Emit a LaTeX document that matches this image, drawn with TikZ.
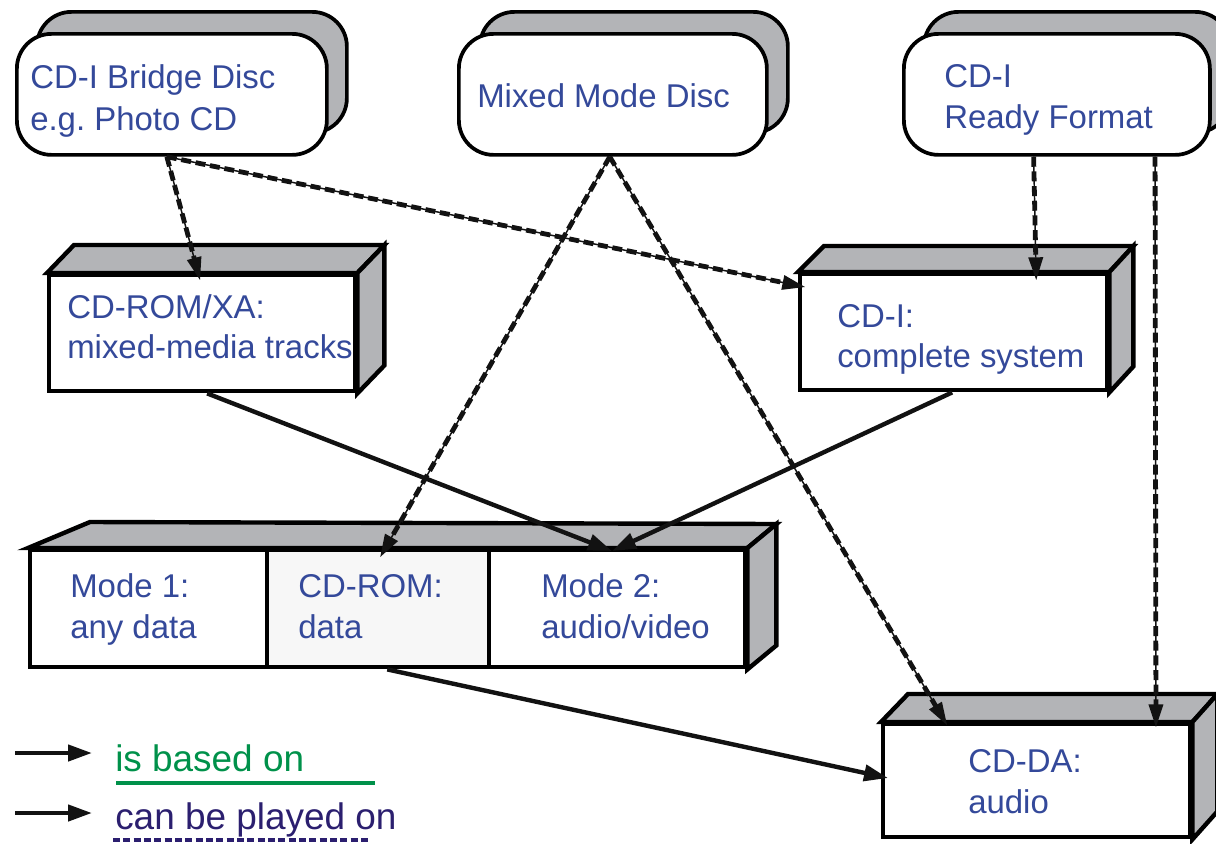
\documentclass[tikz,border=0pt]{standalone}
\usepackage{fontspec}
\setmainfont{Liberation Sans}
\usetikzlibrary{arrows.meta,calc}
\definecolor{shade}{HTML}{B3B4B7}
\definecolor{txtblue}{HTML}{34499A}
\definecolor{lgreen}{HTML}{00914A}
\definecolor{lpurple}{HTML}{2B1F6F}
\definecolor{cellgray}{HTML}{F7F7F7}
\frenchspacing
\begin{document}
\begin{tikzpicture}[x=0.75pt,y=-0.75pt,
  disc/.style={draw=black, line width=2.8pt, fill=white, rounded corners=26pt, inner sep=0pt, anchor=north west, minimum height=90.75pt},
  discback/.style={disc, fill=shade},
  cube/.style={draw=black, line width=3.3pt, fill=white, inner sep=0pt, anchor=north west},
  face/.style={draw=black, line width=3.3pt, fill=shade},
  lbl/.style={anchor=base west, inner sep=0pt, text=txtblue, font=\fontsize{24.7}{29}\selectfont},
  legtext/.style={anchor=base west, inner sep=0pt, font=\fontsize{27.7}{32}\selectfont},
  base/.style={draw=black!93, line width=3.3pt, -{Triangle[length=18pt,width=12pt]}},
  play/.style={draw=black!93, line width=1.1pt, -{Triangle[length=17pt,width=11pt]},
     postaction={draw=black!93, -, line width=3.6pt, dash pattern=on 7.5pt off 3.5pt, shorten >=14pt}}
]
\useasboundingbox (0,0) rectangle (1216,843);

% ---- discs ----
\node[discback, minimum width=232.5pt] (bridgeS) at (35,10) {};
\node[disc, minimum width=232.5pt] (bridge) at (15,32) {};
\node[discback, minimum width=231pt] (mixedS) at (478,10) {};
\node[disc, minimum width=231pt] (mixed) at (457,32) {};
\node[discback, minimum width=229.5pt] (readyS) at (922,10) {};
\node[disc, minimum width=229.5pt] (ready) at (902,32) {};

\node[lbl] (bridgeT1) at (30,88) {CD-I Bridge Disc};
\node[lbl] (bridgeT2) at (30,130) {e.g. Photo CD};
\node[lbl] (mixedT) at (477,107) {Mixed Mode Disc};
\node[lbl] (readyT1) at (944,87) {CD-I};
\node[lbl] (readyT2) at (944,128) {Ready Format};

% ---- CD-ROM/XA ----
\node[cube, minimum width=229.5pt, minimum height=87pt] (xa) at (47,273) {};
\draw[face] (xa.north west) -- ++(27,-28) -- ($(xa.north east)+(27,-28)$) -- (xa.north east) -- cycle;
\draw[face] (xa.north east) -- ++(27,-28) -- ($(xa.south east)+(27,-28)$) -- (xa.south east) -- cycle;
\node[lbl] (xaT1) at (67,318) {CD-ROM/XA:};
\node[lbl] (xaT2) at (67,358) {mixed-media tracks};

% ---- CD-I ----
\node[cube, minimum width=230.25pt, minimum height=87pt] (cdi) at (798,272) {};
\draw[face] (cdi.north west) -- ++(26,-26) -- ($(cdi.north east)+(24,-26)$) -- (cdi.north east) -- cycle;
\draw[face] (cdi.north east) -- ++(24,-26) -- ($(cdi.south east)+(24,-26)$) -- (cdi.south east) -- cycle;
\node[lbl] (cdiT1) at (837,327) {CD-I:};
\node[lbl] (cdiT2) at (837,367) {complete system};

% ---- big box ----
\node[cube, minimum width=177.75pt, minimum height=87.75pt] (m1) at (28,548) {};
\node[cube, fill=cellgray, minimum width=166.5pt, minimum height=87.75pt] (rom) at (265,548) {};
\node[cube, minimum width=192pt, minimum height=87.75pt] (m2) at (487,548) {};
\draw[face] (m1.north west) -- ++(62,-26) -- ($(m2.north east)+(29,-24)$) -- (m2.north east) -- cycle;
\draw[face] (m2.north east) -- ++(29,-24) -- ($(m2.south east)+(29,-24)$) -- (m2.south east) -- cycle;
\node[lbl] (m1T1) at (70,597) {Mode 1:};
\node[lbl] (m1T2) at (70,638) {any data};
\node[lbl] (romT1) at (298,597) {CD-ROM:};
\node[lbl] (romT2) at (298,638) {data};
\node[lbl] (m2T1) at (541,597) {Mode 2:};
\node[lbl] (m2T2) at (541,638) {audio/video};

% ---- CD-DA ----
\node[cube, minimum width=230.25pt, minimum height=84.75pt] (cdda) at (881,722) {};
\draw[face] (cdda.north west) -- ++(27,-28) -- ($(cdda.north east)+(25,-28)$) -- (cdda.north east) -- cycle;
\draw[face] (cdda.north east) -- ++(25,-28) -- ($(cdda.south east)+(25,-28)$) -- (cdda.south east) -- cycle;
\node[lbl] (cddaT1) at (968,772) {CD-DA:};
\node[lbl] (cddaT2) at (968,813) {audio};

% ---- solid connectors ----
\draw[base] ($(xa.south west)!0.516!(xa.south east)$) -- ($(m2.north west)!0.48!(m2.north east)+(0,3)$);
\draw[base] ($(cdi.south west)!0.495!(cdi.south east)$) -- ($(m2.north west)!0.48!(m2.north east)+(0,3)$);
\draw[base] ($(rom.south west)!0.54!(rom.south east)$) -- ($(cdda.north west)+(7,56)$);

% ---- dashed connectors ----
\draw[play] ($(bridge.south west)!0.484!(bridge.south east)$) -- ($(xa.north west)!0.493!(xa.north east)+(0,7)$);
\draw[play] ($(bridge.south west)!0.484!(bridge.south east)$) -- ($(cdi.north west)+(7,15)$);
\draw[play] ($(mixed.south west)!0.49!(mixed.south east)$) -- ($(rom.north west)!0.509!(rom.north east)+(0,9)$);
\draw[play] ($(mixed.south west)!0.49!(mixed.south east)$) -- ($(cdda.north west)+(66,3)$);
\draw[play] ($(ready.south west)!0.425!(ready.south east)$) -- ($(cdi.north west)!0.765!(cdi.north east)+(0,8)$);
\draw[play] ($(ready.south west)!0.817!(ready.south east)$) -- ($(cdda.north west)!0.883!(cdda.north east)+(0,5)$);

% ---- legend ----
\coordinate (l1a) at (15,753);
\coordinate (l1b) at (92,753);
\coordinate (l2a) at (15,813);
\coordinate (l2b) at (92,813);
\draw[base] (l1a) -- (l1b);
\draw[base] (l2a) -- (l2b);
\node[legtext, text=lgreen] (legA) at (115,771) {is based on};
\node[legtext, text=lpurple] (legB) at (115,829) {can be played on};
\coordinate (u1a) at (116,783);
\coordinate (u1b) at (375,783);
\coordinate (u2a) at (113,840);
\coordinate (u2b) at (368,840);
\draw[lgreen, line width=3pt] (u1a) -- (u1b);
\draw[lpurple, line width=3pt, dash pattern=on 5.25pt off 2.5pt] (u2a) -- (u2b);
\end{tikzpicture}
\end{document}
